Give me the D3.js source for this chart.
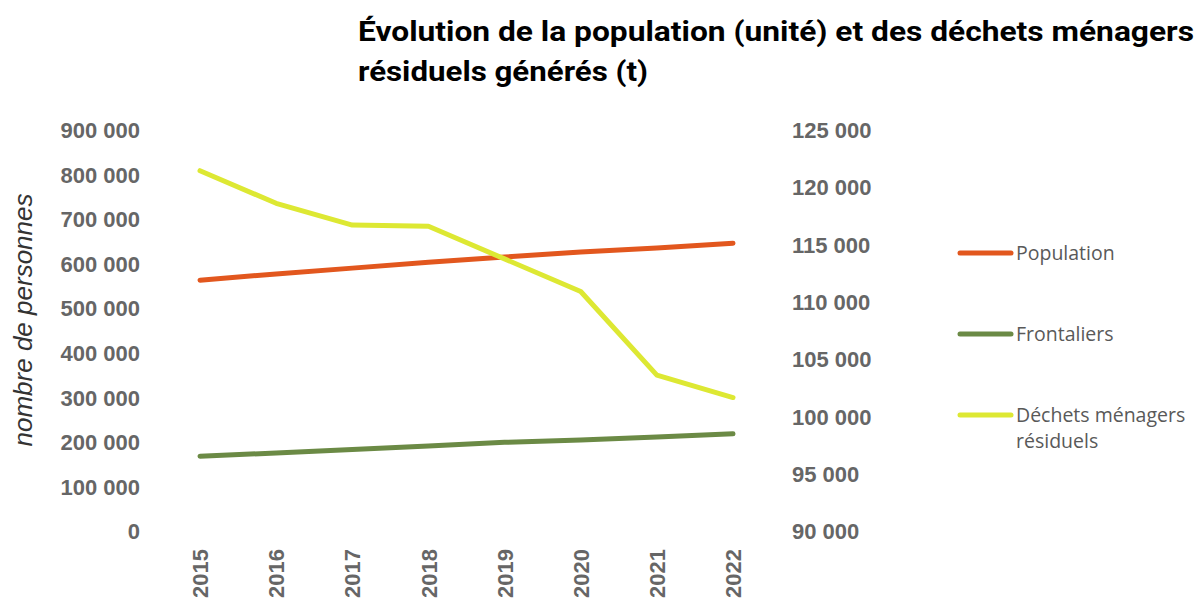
<!DOCTYPE html>
<html>
<head>
<meta charset="utf-8">
<script src="https://cdn.jsdelivr.net/npm/d3@7"></script>
<style>
  body { margin: 0; background: #fff; }
  svg { display: block; }
</style>
</head>
<body>
<div id="chart"></div>
<script>
// donnees
var years = ["2015", "2016", "2017", "2018", "2019", "2020", "2021", "2022"];
var population = [563000, 577000, 590000, 603000, 615000, 626000, 635000, 646000];
var frontaliers = [168000, 175000, 183000, 191000, 199000, 204000, 211000, 218000];
var dechets = [121450, 118600, 116700, 116600, 113750, 110900, 103600, 101650];
var leftTicks = [0, 100000, 200000, 300000, 400000, 500000, 600000, 700000, 800000, 900000];
var rightTicks = [90000, 95000, 100000, 105000, 110000, 115000, 120000, 125000];
var seriesNames = ["Population", "Frontaliers", "Déchets ménagers résiduels"];

var W = 1199, H = 599;
var svg = d3.select("#chart").append("svg").attr("width", W).attr("height", H);

var x = d3.scalePoint().domain(years).range([200, 733]);
var yL = d3.scaleLinear().domain([0, 900000]).range([531, 130]);
var yR = d3.scaleLinear().domain([90000, 125000]).range([531, 130]);

var fmt = function(v) { return d3.format(",")(v).replace(/,/g, " "); };

// titre
var title = svg.append("g").attr("font-family", "'Liberation Sans Narrow', 'Roboto', sans-serif")
  .attr("font-weight", "bold").attr("font-size", 27).attr("fill", "#000");
title.append("text").attr("x", 358).attr("y", 41)
  .attr("textLength", 836).attr("lengthAdjust", "spacingAndGlyphs")
  .text("Évolution de la population (unité) et des déchets ménagers");
title.append("text").attr("x", 358).attr("y", 81)
  .attr("textLength", 290).attr("lengthAdjust", "spacingAndGlyphs")
  .text("résiduels générés (t)");

// axes
var axL = svg.append("g").attr("transform", "translate(140,0)")
  .call(d3.axisLeft(yL).tickValues(leftTicks).tickFormat(fmt).tickSize(0).tickPadding(0));
var axR = svg.append("g").attr("transform", "translate(792,0)")
  .call(d3.axisRight(yR).tickValues(rightTicks).tickFormat(fmt).tickSize(0).tickPadding(0));
var axX = svg.append("g").attr("transform", "translate(0,598)")
  .call(d3.axisBottom(x).tickSize(0).tickPadding(0));

[axL, axR, axX].forEach(function(a) {
  a.select(".domain").remove();
  a.selectAll("text").attr("font-family", "'Liberation Sans', Arial, sans-serif")
    .attr("font-weight", "bold").attr("font-size", 22).attr("fill", "#666");
});
axL.selectAll("text").attr("dy", "0.35em");
axR.selectAll("text").attr("dy", "0.35em");
axX.selectAll("text").attr("transform", "rotate(-90)")
  .attr("text-anchor", "start").attr("x", 0).attr("y", 0).attr("dy", "0.35em");

// titre axe gauche
svg.append("text").attr("transform", "translate(32,320) rotate(-90)")
  .attr("text-anchor", "middle").attr("font-family", "'Liberation Sans', Arial, sans-serif")
  .attr("font-style", "italic").attr("font-size", 26).attr("fill", "#333")
  .text("nombre de personnes");

// lignes
var series = [
  { name: seriesNames[0], values: population, y: yL, color: "#E2571E" },
  { name: seriesNames[1], values: frontaliers, y: yL, color: "#6B8A45" },
  { name: seriesNames[2], values: dechets, y: yR, color: "#DDE833" }
];

series.forEach(function(s) {
  var line = d3.line().x(function(d, i) { return x(years[i]); }).y(function(d) { return s.y(d); });
  svg.append("path").datum(s.values).attr("d", line)
    .attr("fill", "none").attr("stroke", s.color).attr("stroke-width", 5)
    .attr("stroke-linecap", "round").attr("stroke-linejoin", "round");
});

// legende
var leg = svg.append("g").attr("font-family", "'Open Sans', 'Noto Sans', sans-serif")
  .attr("font-size", 19.5).attr("fill", "#595959");
var legY = [253, 334, 415];
series.forEach(function(s, i) {
  leg.append("line").attr("x1", 960).attr("x2", 1011).attr("y1", legY[i]).attr("y2", legY[i])
    .attr("stroke", s.color).attr("stroke-width", 5).attr("stroke-linecap", "round");
});
leg.append("text").attr("x", 1016).attr("y", legY[0]).attr("dy", "0.35em").text("Population");
leg.append("text").attr("x", 1016).attr("y", legY[1]).attr("dy", "0.35em").text("Frontaliers");
leg.append("text").attr("x", 1016).attr("y", legY[2]).attr("dy", "0.35em").text("Déchets ménagers");
leg.append("text").attr("x", 1016).attr("y", legY[2] + 26).attr("dy", "0.35em").text("résiduels");
</script>
</body>
</html>
